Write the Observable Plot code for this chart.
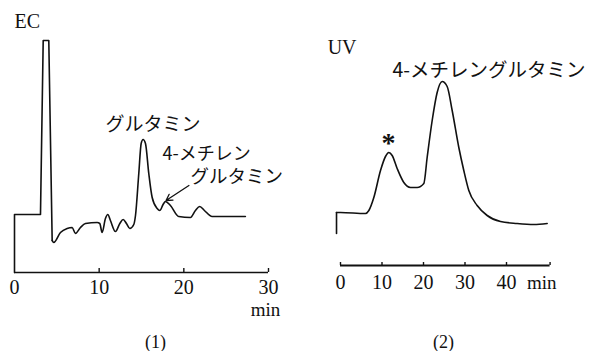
<!DOCTYPE html>
<html>
<head>
<meta charset="utf-8">
<script src="https://cdn.jsdelivr.net/npm/d3@7"></script>
<script src="https://cdn.jsdelivr.net/npm/@observablehq/plot@0.6"></script>
<style>
  html, body { margin: 0; padding: 0; background: #fff; }
  #wrap { position: relative; width: 601px; height: 351px; overflow: hidden; background: #fff; }
  #wrap svg { position: absolute; top: 0; background: transparent; }
</style>
</head>
<body>
<div id="wrap"></div>
<script>
// Panel (1): EC detection
const ecTime   = [0, 0, 3.07, 3.39, 4.05, 4.45, 4.64, 5.43, 6.22, 6.81, 7.2, 7.79, 8.38, 9.76, 10.07, 10.35, 10.74, 11.02, 11.33, 11.92, 12.44, 12.83, 13.22, 13.62, 14.09, 14.29, 14.68, 14.96, 15.19, 15.47, 15.86, 16.26, 16.85, 17.16, 17.55, 17.83, 18.42, 19.4, 20.78, 21.37, 21.88, 22.43, 23.34, 27.27];
const ecSignal = [0, 58, 58, 232, 232, 32, 30, 40, 44, 45, 39, 45, 49, 50, 49, 40, 54, 58, 52, 41, 49, 53, 49, 44, 48, 57, 99, 129, 133, 129, 99, 75, 64, 62, 68, 71, 67, 56, 55, 62, 66, 62, 56, 56];
const ecTicks = [0, 10, 20, 30];
const ecLabels = ["EC", "グルタミン", "4-メチレン", "グルタミン", "min", "(1)"];

// Panel (2): UV detection
const uvTime   = [-0.96, -0.96, 0, 6.02, 6.83, 8.03, 9.64, 10.84, 11.65, 12.45, 13.65, 15.26, 16.87, 18.47, 20.08, 20.88, 22.09, 23.29, 24.5, 25.7, 26.91, 28.51, 29.71, 30.92, 32.93, 35.34, 38.55, 42.57, 46.59, 49.8];
const uvSignal = [32, 53, 53, 52, 55, 68, 95, 109, 113, 110, 97, 83, 78, 78, 82, 108, 145, 173, 184, 179, 155, 118, 95, 75, 60, 50, 44, 42, 41, 42];
const uvTicks = [0, 10, 20, 30, 40];
const uvAxisEnd = 50.5;
const uvLabels = ["UV", "4-メチレングルタミン", "*", "min", "(2)"];

const SERIF = "'Liberation Serif', 'DejaVu Serif', serif";
const JP = "'Noto Sans CJK JP', sans-serif";

const idx = (a, b) => d3.range(a, b);

// ---------- Panel 1 ----------
const ecSharp = idx(0, 6);
const ecSmooth = idx(5, ecTime.length);
const p1 = Plot.plot({
  width: 300, height: 351, margin: 0,
  x: {domain: [0, 30], range: [14, 268], axis: null},
  y: {domain: [0, 232], range: [272, 40], axis: null},
  marks: [
    Plot.ruleY([0], {x1: 0, x2: 30, stroke: "#111", strokeWidth: 1.6}),
    Plot.ruleX(ecTicks.slice(1), {x: d => d, y1: 0, y2: 4, stroke: "#111", strokeWidth: 1.4}),
    Plot.text(ecTicks, {x: d => d, y: 0, dy: 15, text: d => String(d), fontFamily: SERIF, fontSize: 20, fill: "#111", lineAnchor: "middle"}),
    Plot.line(ecSharp, {x: i => ecTime[i], y: i => ecSignal[i], stroke: "#111", strokeWidth: 1.6, curve: "linear"}),
    Plot.line(ecSmooth, {x: i => ecTime[i], y: i => ecSignal[i], stroke: "#111", strokeWidth: 1.6, curve: "monotone-x"}),
    Plot.text([ecLabels[0]], {x: 0, y: 251, text: d => d, textAnchor: "start", lineAnchor: "middle", fontFamily: SERIF, fontSize: 20, fill: "#111"}),
    Plot.text([ecLabels[1]], {x: 10.74, y: 148, text: d => d, textAnchor: "start", lineAnchor: "middle", fontFamily: JP, fontSize: 19, fill: "#111"}),
    Plot.text([ecLabels[2]], {x: 17.48, y: 118, text: d => d, textAnchor: "start", lineAnchor: "middle", fontFamily: JP, fontSize: 18, fill: "#111"}),
    Plot.text([ecLabels[3]], {x: 20.78, y: 95, text: d => d, textAnchor: "start", lineAnchor: "middle", fontFamily: JP, fontSize: 18.5, fill: "#111"}),
    Plot.arrow([0], {x1: 20.6, y1: 87, x2: 17.9, y2: 72, stroke: "#111", strokeWidth: 1.3, headLength: 8}),
    Plot.text([ecLabels[4]], {x: 30, y: 0, dx: -3, dy: 37, text: d => d, fontFamily: SERIF, fontSize: 19, fill: "#111", lineAnchor: "middle"}),
    Plot.text([ecLabels[5]], {x: 16.65, y: -70, text: d => d, fontFamily: SERIF, fontSize: 18, fill: "#111", lineAnchor: "middle"})
  ]
});
p1.style.left = "0px";

// ---------- Panel 2 ----------
const uvSharp = idx(0, 2);
const uvSmooth = idx(1, uvTime.length);
const p2 = Plot.plot({
  width: 301, height: 351, margin: 0,
  x: {domain: [0, 40], range: [40, 206], axis: null},
  y: {domain: [0, 184], range: [265, 81], axis: null},
  marks: [
    Plot.ruleY([0], {x1: 0, x2: uvAxisEnd, stroke: "#111", strokeWidth: 1.8}),
    Plot.ruleX(uvTicks.concat([uvAxisEnd]), {x: d => d, y1: 0, y2: 3, stroke: "#111", strokeWidth: 1.4}),
    Plot.text(uvTicks, {x: d => d, y: 0, dy: 17, text: d => String(d), fontFamily: SERIF, fontSize: 20, fill: "#111", lineAnchor: "middle"}),
    Plot.line(uvSharp, {x: i => uvTime[i], y: i => uvSignal[i], stroke: "#111", strokeWidth: 1.6, curve: "linear"}),
    Plot.line(uvSmooth, {x: i => uvTime[i], y: i => uvSignal[i], stroke: "#111", strokeWidth: 1.6, curve: "monotone-x"}),
    Plot.text([uvLabels[0]], {x: -3.1, y: 218, text: d => d, textAnchor: "start", lineAnchor: "middle", fontFamily: SERIF, fontSize: 20, fill: "#111"}),
    Plot.text([uvLabels[1]], {x: 12.5, y: 195, text: d => d, textAnchor: "start", lineAnchor: "middle", fontFamily: JP, fontSize: 19.5, fill: "#111"}),
    Plot.text([uvLabels[2]], {x: 11.57, y: 127, dy: 5, text: d => d, fontFamily: SERIF, fontSize: 28, fontWeight: "bold", fill: "#111", lineAnchor: "middle"}),
    Plot.text([uvLabels[3]], {x: 48.5, y: 0, dy: 17, text: d => d, fontFamily: SERIF, fontSize: 19, fill: "#111", lineAnchor: "middle"}),
    Plot.text([uvLabels[4]], {x: 24.8, y: -77, text: d => d, fontFamily: SERIF, fontSize: 18, fill: "#111", lineAnchor: "middle"})
  ]
});
p2.style.left = "300px";

const wrap = document.getElementById("wrap");
wrap.appendChild(p1);
wrap.appendChild(p2);
</script>
</body>
</html>
